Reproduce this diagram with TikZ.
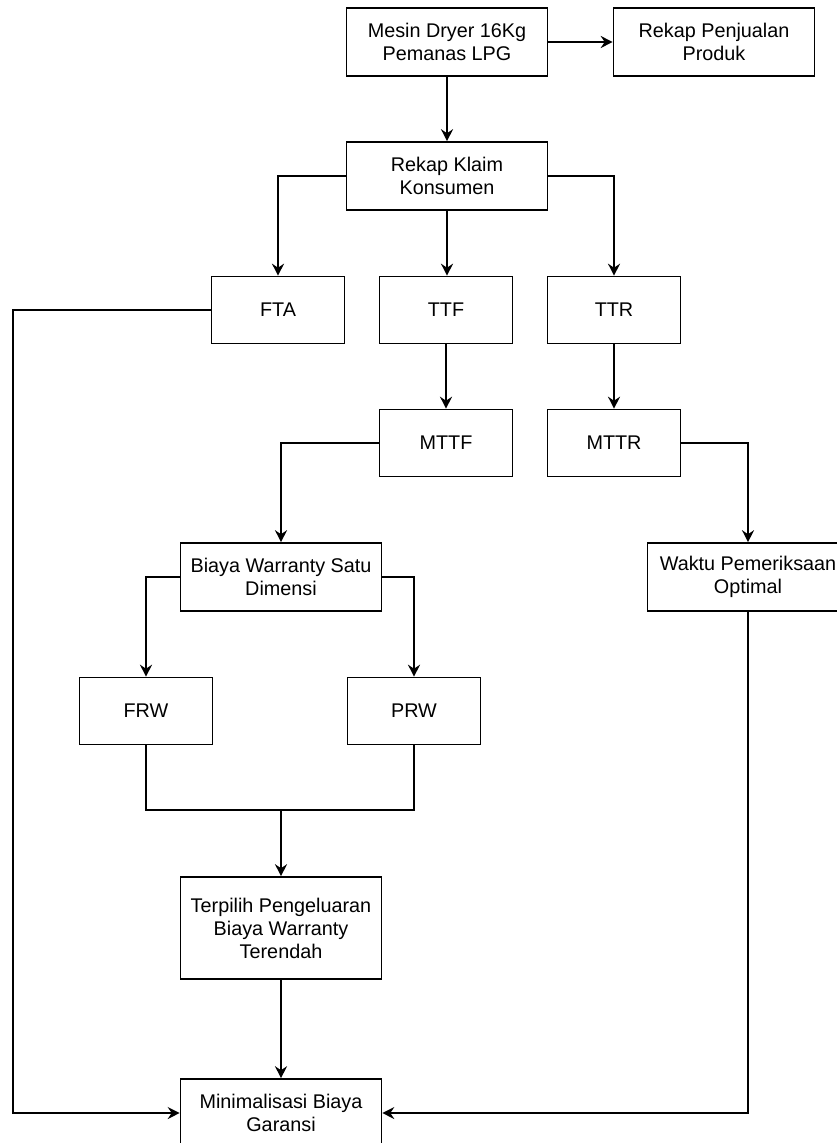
\documentclass[tikz,border=0pt]{standalone}
\usepackage{fontspec}
\setmainfont{Liberation Sans}
\usetikzlibrary{arrows.meta}

\begin{document}
\begin{tikzpicture}[x=1pt,y=-1pt]
\tikzset{every node/.style={font=\fontsize{19.8}{23}\selectfont,align=center}}
\tikzset{kotak/.style={draw,line width=1.6pt,inner sep=0pt,minimum width=201pt,minimum height=68pt}}
\tikzset{kecil/.style={kotak,minimum width=133pt,minimum height=67pt}}
\tikzset{panah/.style={line width=1.6pt,-{Stealth[length=12pt,width=12pt,inset=4pt]}}}
\tikzset{garis/.style={line width=1.6pt}}
\useasboundingbox (0,0) rectangle (837,1143);
% kotak-kotak
\node[kotak] (mesin) at (447,42) {Mesin Dryer 16Kg\\Pemanas LPG};
\node[kotak] (rekapjual) at (714,42) {Rekap Penjualan\\Produk};
\node[kotak] (klaim) at (447,176) {Rekap Klaim\\Konsumen};
\node[kecil] (fta) at (278,310) {FTA};
\node[kecil] (ttf) at (446,310) {TTF};
\node[kecil] (ttr) at (614,310) {TTR};
\node[kecil] (mttf) at (446,443) {MTTF};
\node[kecil] (mttr) at (614,443) {MTTR};
\node[kotak] (biaya) at (281,577) {Biaya Warranty Satu\\Dimensi};
\node[kotak] (waktu) at (748,577) {Waktu Pemeriksaan\\Optimal};
\node[kecil] (frw) at (146,711) {FRW};
\node[kecil] (prw) at (414,711) {PRW};
\node[kotak,minimum height=102pt] (terpilih) at (281,928) {Terpilih Pengeluaran\\Biaya Warranty\\Terendah};
\node[kotak] (minim) at (281,1113) {Minimalisasi Biaya\\Garansi};
\coordinate (gabung) at (281,810);
\coordinate (kiri) at (13,310);
% panah
\draw[panah] (mesin) -- (rekapjual);
\draw[panah] (mesin) -- (klaim);
\draw[panah] (klaim.west) -| (fta.north);
\draw[panah] (klaim.south) -- (klaim.south |- ttf.north);
\draw[panah] (klaim.east) -| (ttr.north);
\draw[panah] (ttf) -- (mttf);
\draw[panah] (ttr) -- (mttr);
\draw[panah] (mttf.west) -| (biaya.north);
\draw[panah] (mttr.east) -| (waktu.north);
\draw[panah] (biaya.west) -| (frw.north);
\draw[panah] (biaya.east) -| (prw.north);
\draw[garis] (frw.south) |- (gabung);
\draw[garis] (prw.south) |- (gabung);
\draw[panah] (gabung) -- (terpilih.north);
\draw[panah] (terpilih) -- (minim);
\draw[panah] (fta.west) -- (kiri) |- (minim.west);
\draw[panah] (waktu.south) |- (minim.east);
\end{tikzpicture}
\end{document}
